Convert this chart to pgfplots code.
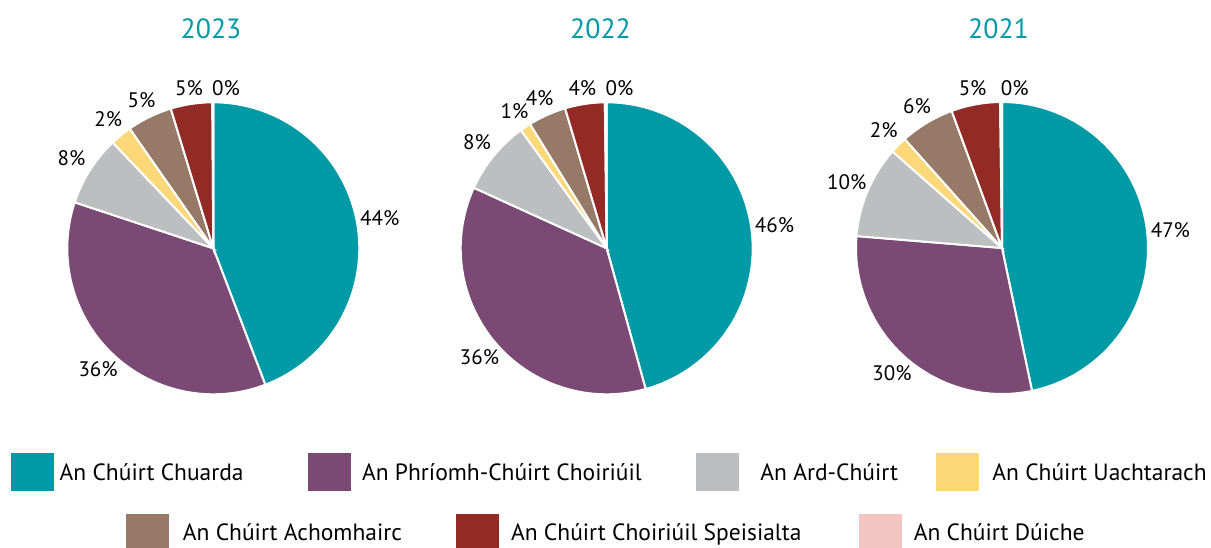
\documentclass[border=0pt]{standalone}
\usepackage{pgfplots}
\pgfplotsset{compat=1.18}
\usepackage{pgfplotstable}
\usepackage{fontspec}
\setmainfont{PT Sans}
\definecolor{c1}{HTML}{009AA6}
\definecolor{c2}{HTML}{7A4A74}
\definecolor{c3}{HTML}{BDBEC0}
\definecolor{c4}{HTML}{FDD878}
\definecolor{c5}{HTML}{967966}
\definecolor{c6}{HTML}{922A25}
\definecolor{c7}{HTML}{F3C5C3}
\definecolor{titleteal}{HTML}{0099A6}
\newcommand{\labfont}{\fontsize{10.5}{12}\selectfont}
\newcommand{\legfont}{\fontsize{11.75}{14}\selectfont}

\pgfplotstableread{
court y2023 y2022 y2021
1 44.2 45.7 46.7
2 35.9 36.1 29.6
3 7.8 8.2 10.2
4 2.4 1.2 1.9
5 5.0 4.2 6.0
6 4.6 4.4 5.4
7 0.1 0.2 0.2
}\piedata

\newcommand{\drawpie}[1]{%
  \def\cum{0}%
  \pgfplotsforeachungrouped \i in {0,...,6}{%
    \pgfplotstablegetelem{\i}{#1}\of\piedata
    \let\val\pgfplotsretval
    \pgfmathsetmacro\a{90-3.6*\cum}%
    \pgfmathsetmacro\cum{\cum+\val}%
    \pgfmathsetmacro\b{90-3.6*\cum}%
    \pgfmathsetmacro\m{(\a+\b)/2}%
    \pgfmathtruncatemacro\c{\i+1}%
    \pgfmathsetmacro\rr{1.10+0.06*abs(cos(\m))}%
    \pgfmathsetmacro\lx{\rr*cos(\m)}%
    \pgfmathsetmacro\ly{\rr*sin(\m)}%
    \pgfmathtruncatemacro\lab{round(\val)}%
    \ifnum\c=7
      \def\labpos{anchor=south west] at (axis cs:-0.01,1.04)}%
    \else
      \edef\labpos{anchor=center] at (axis cs:\lx,\ly)}%
    \fi
    \edef\temp{\noexpand\addplot[draw=white, line width=1pt, fill=c\c, domain=\b:\a, samples=90, variable=\noexpand\t] ({cos(\noexpand\t)},{sin(\noexpand\t)}) -- (axis cs:0,0) -- cycle;
    \noexpand\node[font=\noexpand\labfont, inner sep=0pt, \labpos {\lab\noexpand\%};}%
    \temp
  }%
}

\pgfplotsset{pieaxis/.style={anchor=center, scale only axis, width=146pt, height=146pt,
  xmin=-1, xmax=1, ymin=-1, ymax=1, hide axis, clip=false}}

\begin{document}
\begin{tikzpicture}
\path[use as bounding box] (0,0) rectangle (605.5pt,-273.5pt);

\begin{axis}[pieaxis, at={(106.65pt,-124.15pt)}]
\drawpie{y2023}
\end{axis}
\begin{axis}[pieaxis, at={(303.35pt,-124.15pt)}]
\drawpie{y2022}
\end{axis}
\begin{axis}[pieaxis, at={(501pt,-124pt)}]
\drawpie{y2021}
\end{axis}

\begin{scope}[x=0.5pt,y=-0.5pt]
\foreach \xx/\yr in {211/2023, 600.5/2022, 998.5/2021}
  \node[text=titleteal, font=\fontsize{13.9}{16}\selectfont, inner sep=0pt] at (\xx,29) {\yr};
% legend row 1
\foreach \sx/\tx/\col/\txt in {10.7/59.3/c1/{An Chúirt Chuarda}, 308/361.7/c2/{An Phríomh-Chúirt Choiriúil}, 696/760/c3/{An Ard-Chúirt}, 936/992/c4/{An Chúirt Uachtarach}}{
  \fill[\col] (\sx,453.3) rectangle ++(43,37.4);
  \node[anchor=base west, inner sep=0pt, font=\legfont] at (\tx,480) {\txt};
}
% legend row 2
\foreach \sx/\tx/\col/\txt in {125.7/182.5/c5/{An Chúirt Achomhairc}, 456/510.7/c6/{An Chúirt Choiriúil Speisialta}, 859/913.4/c7/{An Chúirt Dúiche}}{
  \fill[\col] (\sx,514.3) rectangle ++(43,37.4);
  \node[anchor=base west, inner sep=0pt, font=\legfont] at (\tx,540.5) {\txt};
}
\end{scope}
\end{tikzpicture}
\end{document}
